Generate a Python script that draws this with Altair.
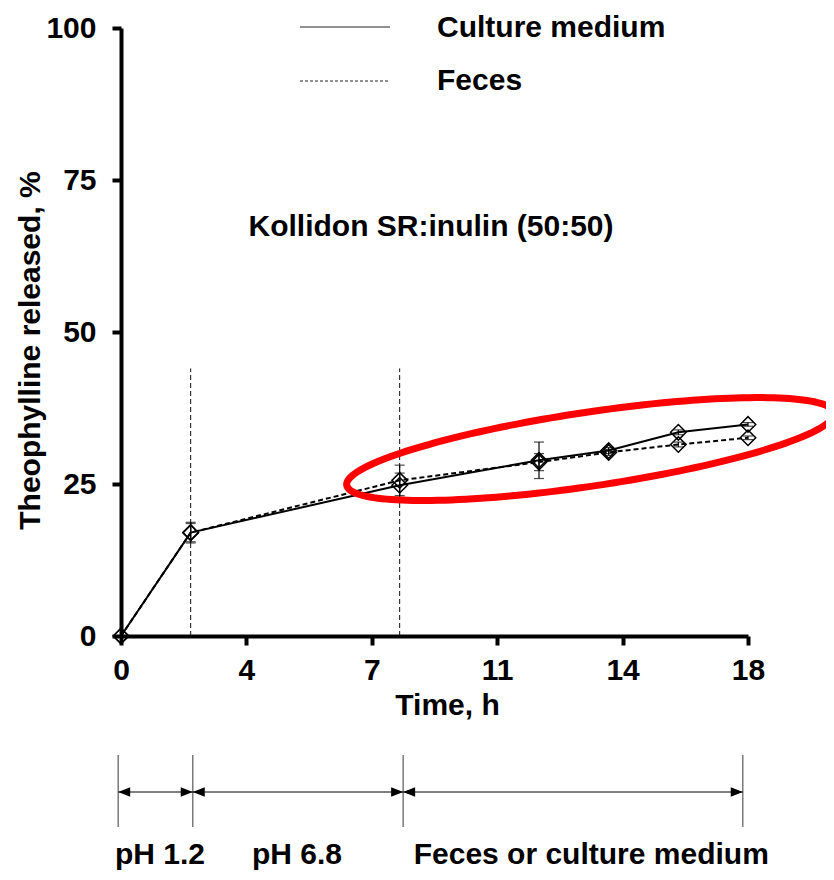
import altair as alt
import pandas as pd
import numpy as np

# ---------------- data ----------------
time_h = [0, 2, 8, 12, 14, 16, 18]
culture_pct = [0, 17.0, 24.8, 28.9, 30.5, 33.5, 34.8]
feces_pct = [0, 17.0, 25.6, 28.6, 30.2, 31.5, 32.6]
culture_err = [0, 1.7, 2.0, 3.0, 0.5, 0.4, 0.3]
feces_err = [0, 1.5, 2.5, 1.4, 0.5, 0.4, 0.3]

x_ticks = [0, 3.6, 7.2, 10.8, 14.4, 18]
y_ticks = [0, 25, 50, 75, 100]

phase_change_h = [2, 8]
phase_line_top_pct = 44
phase_marks_h = [-0.08, 2.06, 8.1, 17.85]
phase_labels = ["pH 1.2", "pH 6.8", "Feces or culture medium"]
phase_label_h = [1.12, 5.05, 13.5]

legend_labels = ["Culture medium", "Feces"]
chart_title = "Kollidon SR:inulin (50:50)"

# red highlight ellipse: tips in data units, minor semi-axis in px
ell_left = (6.48, 24.8)
ell_right = (20.47, 36.7)
ell_minor_px = 37

# ---------------- layout ----------------
W, H = 627, 608
FONT = "Liberation Sans"
FS = 30
X_MAX, Y_MAX = 18, 100

xs = alt.Scale(domain=[0, X_MAX], nice=False, zero=False)
ys = alt.Scale(domain=[0, Y_MAX], nice=False, zero=False)

x_axis = alt.Axis(values=x_ticks, format=".0f", title="Time, h", tickSize=9,
                  tickWidth=4, domainWidth=4, labelPadding=25, labelBaseline="middle",
                  labelFlush=False, labelOverlap=False, titleX=326, titleY=69,
                  titleBaseline="middle", titleAlign="center")
y_axis = alt.Axis(values=y_ticks, title="Theophylline released, %", tickSize=9,
                  tickWidth=4, domainWidth=4, labelPadding=16, labelFlush=False,
                  labelOverlap=False, titleX=-91, titleY=322, titleAngle=270,
                  titleBaseline="middle", titleAlign="center")


def X(field):
    return alt.X(field, type="quantitative", scale=xs, axis=x_axis)


def Y(field):
    return alt.Y(field, type="quantitative", scale=ys, axis=y_axis)


series = pd.DataFrame({
    "t": time_h * 2,
    "v": culture_pct + feces_pct,
    "err": culture_err + feces_err,
    "s": ["Culture medium"] * len(time_h) + ["Feces"] * len(time_h),
})
series["lo"] = series["v"] - series["err"]
series["hi"] = series["v"] + series["err"]
cult = series[series.s == "Culture medium"]
fec = series[series.s == "Feces"]
errs = series[series.err > 0]

line_c = alt.Chart(cult).mark_line(color="black", strokeWidth=2).encode(
    x=X("t"), y=Y("v"))
line_f = alt.Chart(fec).mark_line(color="black", strokeWidth=2, strokeDash=[5, 3]).encode(
    x=X("t"), y=Y("v"))

phase_df = pd.DataFrame({"t": phase_change_h, "top": [phase_line_top_pct] * len(phase_change_h),
                         "bottom": [0] * len(phase_change_h)})
phase_rules = alt.Chart(phase_df).mark_rule(color="#111111", strokeWidth=1, strokeDash=[5, 3]).encode(
    x=X("t"), y=Y("bottom"), y2="top:Q")

err_rules = alt.Chart(errs).mark_rule(color="black", strokeWidth=1.2).encode(
    x=X("t"), y=Y("lo"), y2="hi:Q")
cap_lo = alt.Chart(errs).mark_tick(orient="horizontal", size=10, thickness=1.2, color="black").encode(
    x=X("t"), y=Y("lo"))
cap_hi = alt.Chart(errs).mark_tick(orient="horizontal", size=10, thickness=1.2, color="black").encode(
    x=X("t"), y=Y("hi"))

points = alt.Chart(series).mark_point(shape="diamond", filled=False, size=240, strokeWidth=1.5,
                                      color="black", opacity=1).encode(x=X("t"), y=Y("v"))

# ellipse (computed in pixel space, converted back to data units)
kx, ky = W / X_MAX, H / Y_MAX
p1 = np.array([ell_left[0] * kx, ell_left[1] * ky])
p2 = np.array([ell_right[0] * kx, ell_right[1] * ky])
c = (p1 + p2) / 2
a = np.linalg.norm(p2 - p1) / 2
ang = np.arctan2(p2[1] - p1[1], p2[0] - p1[0])
tt = np.linspace(0, 2 * np.pi, 181)
ex = c[0] + a * np.cos(tt) * np.cos(ang) - ell_minor_px * np.sin(tt) * np.sin(ang)
ey = c[1] + a * np.cos(tt) * np.sin(ang) + ell_minor_px * np.sin(tt) * np.cos(ang)
ell_df = pd.DataFrame({"t": ex / kx, "v": ey / ky, "o": np.arange(len(tt))})
ellipse = alt.Chart(ell_df).mark_line(color="#ff0000", strokeWidth=7, clip=False).encode(
    x=X("t"), y=Y("v"), order="o:Q")

# legend (drawn in the plot like the original)
one = pd.DataFrame({"k": [0]})
leg_solid = alt.Chart(one).mark_rule(color="#222222", strokeWidth=1).encode(
    x=alt.value(179), x2=alt.value(269), y=alt.value(-1))
leg_dash = alt.Chart(one).mark_rule(color="#222222", strokeWidth=1, strokeDash=[3, 2]).encode(
    x=alt.value(179), x2=alt.value(269), y=alt.value(53))
txt_style = dict(font=FONT, fontSize=FS, fontWeight="bold", color="black", baseline="middle")
leg_t1 = alt.Chart(one).mark_text(align="left", **txt_style).encode(
    x=alt.value(316), y=alt.value(0), text=alt.value(legend_labels[0]))
leg_t2 = alt.Chart(one).mark_text(align="left", **txt_style).encode(
    x=alt.value(316), y=alt.value(53), text=alt.value(legend_labels[1]))
title_t = alt.Chart(one).mark_text(align="center", **txt_style).encode(
    x=alt.value(310), y=alt.value(199), text=alt.value(chart_title))

# phase diagram below the axis
marks_df = pd.DataFrame({"h": phase_marks_h})
seg_df = pd.DataFrame({"start": phase_marks_h[:-1], "end": phase_marks_h[1:]})
lab_df = pd.DataFrame({"h": phase_label_h, "label": phase_labels})
ph_rules = alt.Chart(marks_df).mark_rule(color="#7a7a7a", strokeWidth=1.5).encode(
    x=X("h"), y=alt.value(727), y2=alt.value(799))
ph_arrows = alt.Chart(seg_df).mark_rule(color="black", strokeWidth=1).encode(
    x=X("start"), x2="end:Q", y=alt.value(764))
head_r = alt.Chart(seg_df).mark_point(shape="M0,0L-2,-0.8L-2,0.8Z", filled=True, size=144,
                                      color="black", opacity=1).encode(x=X("end"), y=alt.value(764))
head_l = alt.Chart(seg_df).mark_point(shape="M0,0L2,-0.8L2,0.8Z", filled=True, size=144,
                                      color="black", opacity=1).encode(x=X("start"), y=alt.value(764))
ph_text = alt.Chart(lab_df).mark_text(align="center", **txt_style).encode(
    x=X("h"), y=alt.value(827), text="label:N")

chart = alt.layer(
    line_c, phase_rules, line_f, err_rules, cap_lo, cap_hi, points, ellipse,
    leg_solid, leg_dash, leg_t1, leg_t2, title_t,
    ph_rules, ph_arrows, head_r, head_l, ph_text,
).properties(
    width=W, height=H,
    padding={"left": 113, "top": 20, "right": 78, "bottom": 236},
    autosize=alt.AutoSizeParams(type="none"),
).configure_view(stroke=None).configure_axis(
    grid=False, domainColor="black", tickColor="black",
    labelFont=FONT, labelFontSize=FS, labelFontWeight="bold", labelColor="black",
    titleFont=FONT, titleFontSize=FS, titleFontWeight="bold", titleColor="black",
)

chart.save("out.html", embed_options={"renderer": "svg", "actions": False})
